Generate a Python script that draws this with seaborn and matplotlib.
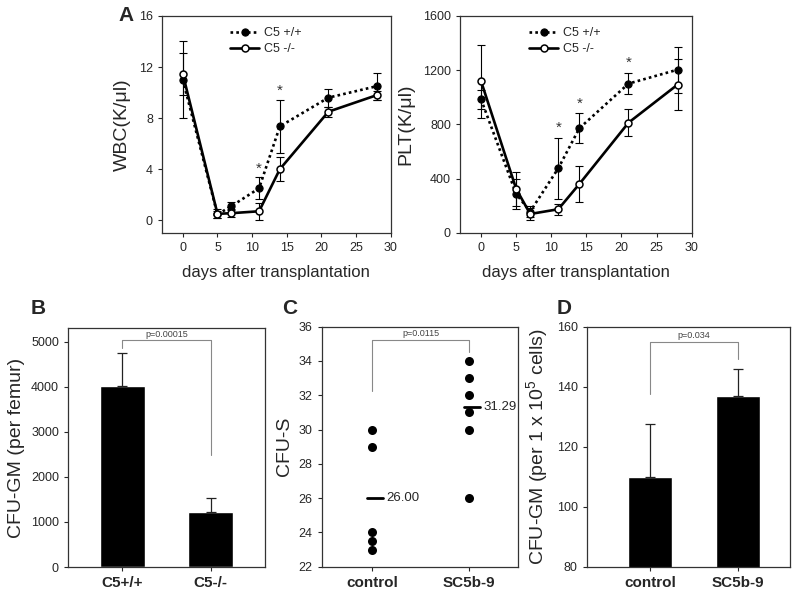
import numpy as np
import pandas as pd
import matplotlib
matplotlib.use("Agg")
import matplotlib.pyplot as plt
import seaborn as sns

# --- data ---
days = [0, 5, 7, 11, 14, 21, 28]

wbc_wt = [11.0, 0.45, 1.1, 2.5, 7.35, 9.6, 10.5]
wbc_wt_err = [3.0, 0.3, 0.3, 0.85, 2.1, 0.7, 1.05]
wbc_ko = [11.45, 0.5, 0.55, 0.7, 4.0, 8.5, 9.8]
wbc_ko_err = [1.65, 0.35, 0.3, 0.65, 0.95, 0.4, 0.35]
wbc_star_days = [11, 14]

plt_wt = [985, 288, 158, 477, 772, 1101, 1204]
plt_wt_err = [70, 110, 40, 225, 110, 80, 170]
plt_ko = [1119, 325, 140, 175, 361, 813, 1094]
plt_ko_err = [270, 125, 45, 40, 130, 98, 190]
plt_star_days = [11, 14, 21]

b_groups = ["C5+/+", "C5-/-"]
b_values = [4020, 1225]
b_err = [730, 315]
b_p = "p=0.00015"

c_groups = ["control", "SC5b-9"]
c_control = [30, 29, 24, 23.5, 23]
c_sc5b9 = [34, 33, 32, 31, 30, 26]
c_means = [26.00, 31.29]
c_p = "p=0.0115"

d_groups = ["control", "SC5b-9"]
d_values = [110, 137]
d_err = [17.5, 8.8]
d_p = "p=0.034"

sns.set_style("ticks")
plt.rcParams['font.family'] = ['Liberation Sans', 'DejaVu Sans']
plt.rcParams['mathtext.fontset'] = 'custom'
plt.rcParams['mathtext.rm'] = 'Liberation Sans'
plt.rcParams['axes.edgecolor'] = '#333333'
plt.rcParams['axes.linewidth'] = 0.9
plt.rcParams['xtick.major.size'] = 3
plt.rcParams['ytick.major.size'] = 3
plt.rcParams['xtick.major.width'] = 0.8
plt.rcParams['ytick.major.width'] = 0.8

fig = plt.figure(figsize=(8, 6.02), dpi=100)
axA1 = fig.add_axes([0.2025, 0.613, 0.286, 0.3605])
axA2 = fig.add_axes([0.575, 0.613, 0.2896, 0.3605])
axB = fig.add_axes([0.085, 0.0581, 0.246, 0.397])
axC = fig.add_axes([0.402, 0.0586, 0.2458, 0.3987])
axD = fig.add_axes([0.7334, 0.0586, 0.254, 0.3987])

dotted = (0, (1, 1.2))


def time_course(ax, wt, wt_err, ko, ko_err, stars, ylim, yticks, ylabel, star_off):
    ax.errorbar(days, wt, yerr=wt_err, fmt='none', ecolor='black', elinewidth=0.8, capsize=3, capthick=0.8, zorder=2)
    ax.errorbar(days, ko, yerr=ko_err, fmt='none', ecolor='black', elinewidth=0.8, capsize=3, capthick=0.8, zorder=2)
    sns.lineplot(x=days, y=wt, ax=ax, color='black', linestyle=dotted, linewidth=1.9,
                 marker='o', markersize=5.2, markerfacecolor='black', markeredgecolor='black',
                 label='C5 +/+', zorder=3)
    sns.lineplot(x=days, y=ko, ax=ax, color='black', linestyle='-', linewidth=1.9,
                 marker='o', markersize=5, markerfacecolor='white', markeredgecolor='black',
                 markeredgewidth=1.1, label='C5 -/-', zorder=4)
    for d in stars:
        i = days.index(d)
        ax.text(d, wt[i] + wt_err[i] + star_off, '*', ha='center', va='center', fontsize=11, color='#333333')
    ax.set_xlim(-3, 30)
    ax.set_xticks(range(0, 31, 5))
    ax.set_ylim(*ylim)
    ax.set_yticks(yticks)
    ax.set_xlabel('days after transplantation', fontsize=12, labelpad=8)
    ax.set_ylabel(ylabel, fontsize=14, labelpad=6)
    ax.tick_params(labelsize=9)
    ax.legend(loc='upper left', bbox_to_anchor=(0.25, 1.0), frameon=False, fontsize=9,
              handlelength=2.3, handletextpad=0.4, labelspacing=0.3)


time_course(axA1, wbc_wt, wbc_wt_err, wbc_ko, wbc_ko_err, wbc_star_days,
            (-1, 16), [0, 4, 8, 12, 16], 'WBC(K/μl)', 0.65)
time_course(axA2, plt_wt, plt_wt_err, plt_ko, plt_ko_err, plt_star_days,
            (0, 1600), [0, 400, 800, 1200, 1600], 'PLT(K/μl)', 72)


def bracket(ax, x0, x1, top, left_low, right_low, text, text_y):
    ax.plot([x0, x0, x1, x1], [left_low, top, top, right_low], color='#888888', linewidth=0.8)
    ax.text((x0 + x1) / 2, text_y, text, ha='center', va='center', fontsize=6.5, color='#444444')


# B: bar chart
sns.barplot(x=b_groups, y=b_values, ax=axB, color='black', saturation=1, width=0.51, errorbar=None)
axB.errorbar([0, 1], b_values, yerr=[[0, 0], b_err], fmt='none', ecolor='#222222',
             elinewidth=0.9, capsize=3.5, capthick=0.9)
bracket(axB, 0, 1, 5025, 4850, 2490, b_p, 5160)
axB.set_xlim(-0.616, 1.61)
axB.set_ylim(0, 5300)
axB.set_yticks(range(0, 5001, 1000))
axB.set_ylabel('CFU-GM (per femur)', fontsize=14)

# C: dot plot with means
c_df = pd.DataFrame({
    'group': [c_groups[0]] * len(c_control) + [c_groups[1]] * len(c_sc5b9),
    'cfu': c_control + c_sc5b9,
})
sns.stripplot(data=c_df, x='group', y='cfu', ax=axC, color='black', size=6.5, jitter=False, order=c_groups)
for i, m in enumerate(c_means):
    axC.plot([i - 0.05, i + 0.11], [m, m], color='black', linewidth=2)
    axC.text(i + 0.15, m, f'{m:.2f}', ha='left', va='center', fontsize=9.5)
bracket(axC, 0, 1, 35.22, 32.27, 34.5, c_p, 35.6)
axC.set_xlim(-0.52, 1.505)
axC.set_ylim(22, 36)
axC.set_yticks(range(22, 37, 2))
axC.set_ylabel('CFU-S', fontsize=14)

# D: bar chart
sns.barplot(x=d_groups, y=d_values, ax=axD, color='black', saturation=1, width=0.51, errorbar=None)
axD.errorbar([0, 1], d_values, yerr=[[0, 0], d_err], fmt='none', ecolor='#222222',
             elinewidth=0.9, capsize=3.5, capthick=0.9)
bracket(axD, 0, 1, 154.8, 137.5, 149.1, d_p, 157.2)
axD.set_xlim(-0.72, 1.59)
axD.set_ylim(80, 160)
axD.set_yticks(range(80, 161, 20))
axD.set_ylabel(r'CFU-GM (per 1 x 10$^5$ cells)', fontsize=14)

for ax in (axB, axC, axD):
    ax.set_xlabel('')
    ax.tick_params(axis='y', labelsize=9)
    ax.tick_params(axis='x', labelsize=11)
    for lab in ax.get_xticklabels():
        lab.set_fontweight('bold')

for ax in (axA1, axA2, axB, axC, axD):
    for s in ax.spines.values():
        s.set_visible(True)

fig.text(0.148, 0.975, 'A', fontsize=15, fontweight='bold', ha='left', va='center')
fig.text(0.038, 0.487, 'B', fontsize=15, fontweight='bold', ha='left', va='center')
fig.text(0.353, 0.487, 'C', fontsize=15, fontweight='bold', ha='left', va='center')
fig.text(0.696, 0.487, 'D', fontsize=15, fontweight='bold', ha='left', va='center')

fig.savefig('out.png', dpi=100)
